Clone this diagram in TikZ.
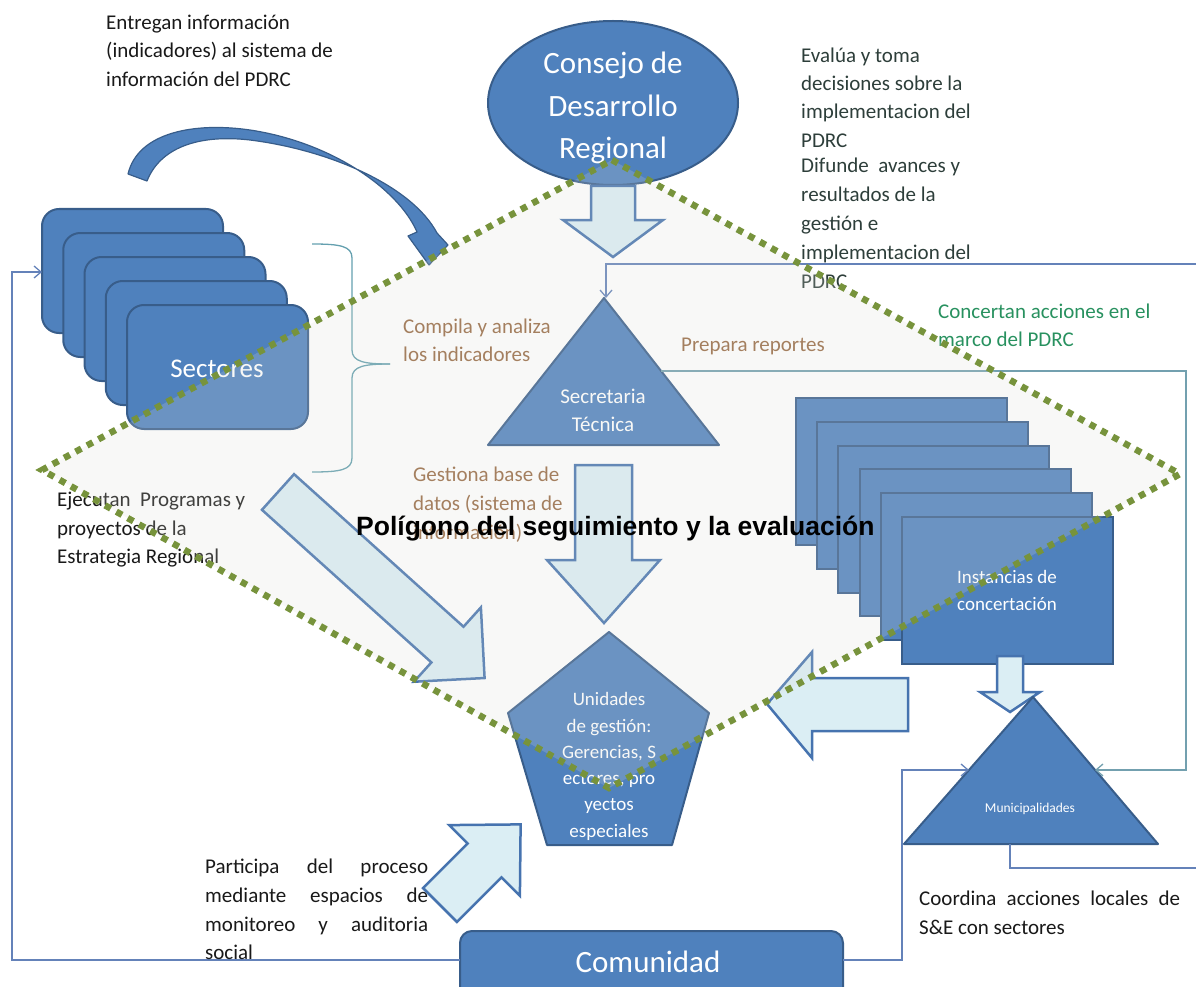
\documentclass[tikz,border=0pt]{standalone}
\usepackage{fontspec}
\setmainfont{Carlito}
\newfontfamily\arialfont{Liberation Sans}
\usetikzlibrary{arrows.meta}
\definecolor{shapeblue}{RGB}{79,129,189}
\definecolor{shapeedge}{RGB}{56,93,138}
\definecolor{lightarrow}{RGB}{219,238,244}
\definecolor{lightedge}{RGB}{70,115,175}
\definecolor{polygreen}{RGB}{119,147,60}
\definecolor{polyfill}{RGB}{222,222,214}
\definecolor{browntext}{RGB}{150,104,66}
\definecolor{greentext}{RGB}{40,145,95}
\definecolor{slatetext}{RGB}{45,62,58}
\definecolor{darktext}{RGB}{25,25,25}
\definecolor{conblue}{RGB}{100,130,185}
\definecolor{conteal}{RGB}{115,160,175}
\definecolor{bracecol}{RGB}{100,160,175}
\begin{document}
\begin{tikzpicture}[x=1pt,y=-1pt,
  bluebox/.style={fill=shapeblue,draw=shapeedge,line width=2pt,line join=round},
  lightarr/.style={fill=lightarrow,draw=lightedge,line width=2.5pt,line join=miter},
  conn/.style={draw=conblue,line width=1.3pt},
  connteal/.style={draw=conteal,line width=1.3pt},
  arrowend/.style={-{Straight Barb[length=7pt,width=12pt]}},
  annot/.style={font=\fontsize{21}{25}\selectfont,anchor=base west,inner sep=0pt},
  wtext/.style={text=white,anchor=base,inner sep=0pt}]
\path[use as bounding box] (0,0) rectangle (1196,987);
\clip (0,0) rectangle (1196,987);

% ---------- Sectores stack ----------
\foreach \i in {0,...,4}{
  \filldraw[bluebox,rounded corners=17pt] ({42+21.25*\i},{209+24*\i}) rectangle ++(181,124);
}
\node[wtext,font=\fontsize{27}{30}\selectfont] (sectores) at (217,377) {Sectores};

% curved arrow
\filldraw[fill=shapeblue,draw=shapeedge,line width=1.2pt,line join=round]
 (128,174) .. controls (138,132) and (195,122) .. (250,130)
 .. controls (330,142) and (398,188) .. (417,232)
 -- (408,236) -- (429,265) -- (448,245) -- (437,233)
 .. controls (412,186) and (330,150) .. (250,140)
 .. controls (198,134) and (160,148) .. (147,181) -- cycle;

% brace
\draw[bracecol,line width=1.3pt] (312,244) .. controls (340,244) and (352,246) .. (352,258) -- (352,350) .. controls (352,362) and (365,364) .. (390,364);
\draw[bracecol,line width=1.3pt] (390,364) .. controls (365,364) and (352,366) .. (352,378) -- (352,458) .. controls (352,470) and (340,472) .. (312,472);

% ---------- Consejo ----------
\filldraw[bluebox] (613,103) ellipse [x radius=125pt, y radius=82pt];
\node[wtext,font=\fontsize{31}{34}\selectfont] (cons1) at (613,74) {Consejo de};
\node[wtext,font=\fontsize{31}{34}\selectfont] (cons2) at (613,117) {Desarrollo};
\node[wtext,font=\fontsize{31}{34}\selectfont] (cons3) at (613,159) {Regional};

\filldraw[lightarr] (591,186) -- (635,186) -- (635,220) -- (663,220) -- (613,257) -- (563,220) -- (591,220) -- cycle;

% ---------- Secretaria ----------
\filldraw[bluebox] (604,298) -- (719,445) -- (488,445) -- cycle;
\node[wtext,font=\fontsize{21}{24}\selectfont] (sec1) at (603,403) {Secretaria};
\node[wtext,font=\fontsize{21}{24}\selectfont] (sec2) at (603,431) {Técnica};

\filldraw[lightarr] (575,465) -- (632,465) -- (632,560) -- (660,560) -- (604,623) -- (547,560) -- (575,560) -- cycle;

% diagonal arrows
\begin{scope}[shift={(278,492)},rotate=-42]
\filldraw[lightarr] (0,-24) -- (228,-24) -- (228,-50) -- (278,0) -- (228,50) -- (228,24) -- (0,24) -- cycle;
\end{scope}
\begin{scope}[shift={(440,905)},rotate=45]
\filldraw[lightarr] (0,-24) -- (63,-24) -- (63,-50) -- (114,0) -- (63,50) -- (63,24) -- (0,24) -- cycle;
\end{scope}

% ---------- Unidades ----------
\filldraw[bluebox] (609,632) -- (709,713) -- (672,845) -- (547,845) -- (508,713) -- cycle;
\node[wtext,font=\fontsize{19}{22}\selectfont] (uni1) at (609,705) {Unidades};
\node[wtext,font=\fontsize{19}{22}\selectfont] (uni2) at (609,732) {de gestión:};
\node[wtext,font=\fontsize{19}{22}\selectfont] (uni3) at (609,758) {Gerencias, S};
\node[wtext,font=\fontsize{19}{22}\selectfont] (uni4) at (609,784) {ectores, pro};
\node[wtext,font=\fontsize{19}{22}\selectfont] (uni5) at (609,810) {yectos};
\node[wtext,font=\fontsize{19}{22}\selectfont] (uni6) at (609,837) {especiales};

% ---------- Instancias stack ----------
\foreach \i in {0,...,5}{
  \filldraw[bluebox,line join=miter] ({796+21.2*\i},{398+23.8*\i}) rectangle ++(211,147);
}
\node[wtext,font=\fontsize{19}{22}\selectfont] (ins1) at (1007,583) {Instancias de};
\node[wtext,font=\fontsize{19}{22}\selectfont] (ins2) at (1007,610) {concertación};

\filldraw[lightarr] (767,704) -- (812,652) -- (812,678) -- (908,678) -- (908,731) -- (812,731) -- (812,758) -- cycle;
\filldraw[lightarr] (997,656) -- (1023,656) -- (1023,692) -- (1040,692) -- (1010,712) -- (980,692) -- (997,692) -- cycle;

% ---------- Municipalidades ----------
\filldraw[bluebox] (1033,697) -- (1158,844) -- (904,844) -- cycle;
\node[wtext,font=\fontsize{13.5}{15}\selectfont] (muni) at (1030,812) {Municipalidades};

% ---------- Comunidad ----------
\filldraw[bluebox,rounded corners=12pt] (460,931) rectangle (843,1010);
\node[wtext,font=\fontsize{31}{34}\selectfont] (comu) at (648,972) {Comunidad};

% ---------- connectors ----------
\coordinate (topIn) at (1200,264);
\coordinate (stApex) at (606,298);
\draw[conn,arrowend] (topIn) -| (stApex);
\coordinate (stRight) at (661,371);
\coordinate (muRight) at (1095,770);
\draw[connteal,arrowend] (stRight) -- (1186,371) |- (muRight);
\coordinate (muBase) at (1010,844);
\coordinate (outR) at (1200,868);
\draw[conn] (muBase) |- (outR);
\coordinate (comR) at (843,960);
\coordinate (muLeft) at (969,770);
\draw[conn,arrowend] (comR) -- (902,960) |- (muLeft);
\coordinate (comL) at (460,960);
\coordinate (secL) at (42,272);
\draw[conn,arrowend] (comL) -- (12,960) |- (secL);

% ---------- annotations ----------
\node[annot,text=darktext] (e1) at (106,30) {Entregan información};
\node[annot,text=darktext] (e2) at (106,58) {(indicadores) al sistema de};
\node[annot,text=darktext] (e3) at (106,87) {información del PDRC};

\node[annot,text=slatetext] (v1) at (801,63) {Evalúa y toma};
\node[annot,text=slatetext] (v2) at (801,91) {decisiones sobre la};
\node[annot,text=slatetext] (v3) at (801,119) {implementacion del};
\node[annot,text=slatetext] (v4) at (801,148) {PDRC};
\node[annot,text=slatetext] (v5) at (801,173) {Difunde\ \ avances y};
\node[annot,text=slatetext] (v6) at (801,201) {resultados de la};
\node[annot,text=slatetext] (v7) at (801,230) {gestión e};
\node[annot,text=slatetext] (v8) at (801,259) {implementacion del};
\node[annot,text=slatetext] (v9) at (801,288) {PDRC};

\node[annot,text=greentext] (c1) at (938,318) {Concertan acciones en el};
\node[annot,text=greentext] (c2) at (938,346) {marco del PDRC};

\node[annot,text=browntext] (k1) at (403,333) {Compila y analiza};
\node[annot,text=browntext] (k2) at (403,361) {los indicadores};
\node[annot,text=browntext] (pr) at (681,351) {Prepara reportes};
\node[annot,text=browntext] (g1) at (413,481) {Gestiona base de};
\node[annot,text=browntext] (g2) at (413,510) {datos (sistema de};
\node[annot,text=browntext] (g3) at (413,539) {información)};

\node[annot,text=darktext] (j1) at (57,506) {Ejecutan\ \ Programas y};
\node[annot,text=darktext] (j2) at (57,535) {proyectos de la};
\node[annot,text=darktext] (j3) at (57,563) {Estrategia Regional};

\node[annot,text=darktext] (p1) at (205,873) {\makebox[223pt][s]{Participa del proceso}};
\node[annot,text=darktext] (p2) at (205,902) {\makebox[223pt][s]{mediante espacios de}};
\node[annot,text=darktext] (p3) at (205,931) {\makebox[223pt][s]{monitoreo y auditoria}};
\node[annot,text=darktext] (p4) at (205,959) {social};

\node[annot,text=darktext] (o1) at (919,905) {\makebox[261pt][s]{Coordina acciones locales de}};
\node[annot,text=darktext] (o2) at (919,934) {S\&E con sectores};

% ---------- polygon overlay ----------
\path[fill=polyfill,fill opacity=0.2] (612,160) -- (1180,474) -- (609,788) -- (42,470) -- cycle;
\draw[polygreen,line width=6.5pt,dash pattern=on 6.5pt off 6.5pt] (612,160) -- (1180,474) -- (609,788) -- (42,470) -- cycle;

\node[anchor=base west,inner sep=0pt,font={\arialfont\bfseries\fontsize{26.5}{30}\selectfont}] (title) at (356,535) {Polígono del seguimiento y la evaluación};
\end{tikzpicture}
\end{document}
